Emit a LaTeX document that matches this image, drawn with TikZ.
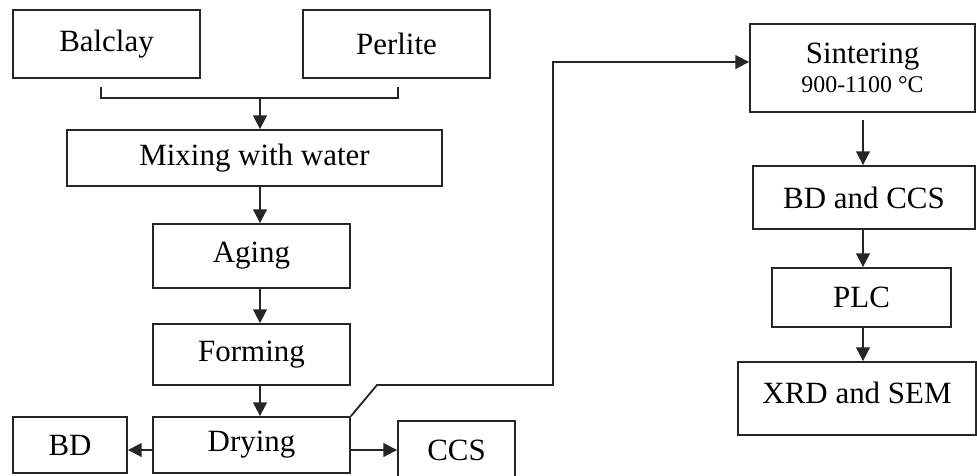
\documentclass[tikz,border=0pt]{standalone}
\usepackage{fontspec}
\setmainfont{Liberation Serif}
\usetikzlibrary{arrows.meta}

\begin{document}
\begin{tikzpicture}[x=0.025cm,y=-0.025cm,
  box/.style={draw=black!85, line width=1.3pt, inner sep=0pt,
    font=\fontsize{22}{26}\selectfont},
  link/.style={draw=black!85, line width=1.3pt},
  arr/.style={link, -{Triangle[length=0.34cm,width=0.34cm]}}]
\useasboundingbox (0,0) rectangle (977,475);
% Raw materials
\node[box, minimum width=4.675cm, minimum height=1.7cm] (balclay) at (106.5,44) {Balclay};
\node[box, minimum width=4.675cm, minimum height=1.7cm] (perlite) at (396.5,44) {Perlite};
% Left column
\node[box, minimum width=9.375cm, minimum height=1.4cm] (mixing) at (254.5,158) {Mixing with water};
\node[box, minimum width=4.925cm, minimum height=1.6cm] (aging) at (251.5,256) {Aging};
\node[box, minimum width=4.925cm, minimum height=1.525cm] (forming) at (251.5,354.5) {Forming};
\node[box, minimum width=4.925cm, minimum height=1.4cm] (drying) at (251.5,445) {Drying};
\node[box, minimum width=2.85cm, minimum height=1.4cm] (bd) at (70,445) {BD};
\node[box, minimum width=2.925cm, minimum height=1.45cm] (ccs) at (456.5,450) {CCS};
% Right column
\node[box, minimum width=5.625cm, minimum height=2.2cm, align=center] (sintering) at (862.5,68)
  {Sintering\\[-5pt]{\fontsize{17}{20}\selectfont 900-1100 °C}};
\node[box, minimum width=5.55cm, minimum height=1.575cm] (bdccs) at (864,197.5) {BD and CCS};
\node[box, minimum width=4.475cm, minimum height=1.475cm] (plc) at (861.5,297.5) {PLC};
\node[box, minimum width=5.95cm, text height=1.025cm, text depth=0.8cm] (xrd) at (857,398.5) {XRD and SEM};
% Joining lines
\coordinate (bl) at (101,87);
\coordinate (pr) at (398,87);
\coordinate (join) at (260,98);
\coordinate (bend) at (377,385);
\coordinate (up) at (553,62);
\coordinate (down) at (863,120);
\draw[link] (bl) |- (join) -| (pr);
\draw[arr] (join) -- (join |- mixing.north);
\draw[arr] (mixing.south -| join) -- (aging.north -| join);
\draw[arr] (aging.south -| join) -- (forming.north -| join);
\draw[arr] (forming.south -| join) -- (drying.north -| join);
\draw[arr] ([yshift=-0.125cm]drying.west) -- ([yshift=-0.125cm]drying.west -| bd.east);
\draw[arr] (ccs.west -| drying.east) -- (ccs.west);
\draw[arr] (drying.north east) -- (bend) -| (up) -- (up -| sintering.west);
\draw[arr] (down) -- (down |- bdccs.north);
\draw[arr] (bdccs.south -| down) -- (plc.north -| down);
\draw[arr] (plc.south -| down) -- (xrd.north -| down);
\end{tikzpicture}
\end{document}
